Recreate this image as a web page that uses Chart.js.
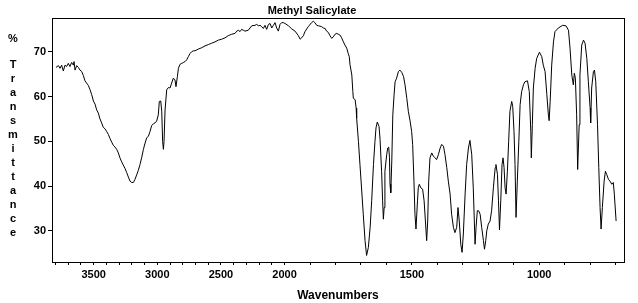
<!DOCTYPE html>
<html>
<head>
<meta charset="utf-8">
<title>Methyl Salicylate</title>
<script src="https://cdn.jsdelivr.net/npm/chart.js@4/dist/chart.umd.min.js"></script>
<style>
body { margin: 0; background: #fff; }
</style>
</head>
<body>
<canvas id="ir" width="638" height="303"></canvas>
<script>
// spectrum, high to low wavenumber
let wavenumber = [
  3796, 3777, 3764, 3751, 3738, 3725, 3712, 3699, 3686, 3673, 3659, 3654, 3646, 3633, 3620, 3607,
  3594, 3581, 3568, 3555, 3542, 3528, 3515, 3502, 3489, 3476, 3463, 3450, 3437, 3424, 3411, 3398,
  3384, 3371, 3358, 3345, 3332, 3319, 3306, 3293, 3280, 3267, 3253, 3240, 3227, 3214, 3201, 3188,
  3175, 3162, 3149, 3136, 3123, 3109, 3096, 3083, 3070, 3057, 3044, 3031, 3018, 3005, 2992, 2984,
  2973, 2965, 2958, 2952, 2947, 2939, 2926, 2913, 2900, 2887, 2874, 2861, 2853, 2842, 2834, 2821,
  2808, 2795, 2782, 2769, 2756, 2743, 2730, 2717,
  2704, 2677, 2651, 2625, 2599, 2573, 2547, 2520, 2494, 2468, 2442, 2416, 2389, 2376, 2363, 2350,
  2337, 2324, 2311, 2285, 2272, 2258, 2232, 2219, 2206, 2193, 2180, 2167, 2154, 2141, 2127, 2114,
  2101, 2088, 2075, 2062, 2049, 2036, 2023, 2010, 1998, 1985, 1972, 1959, 1946, 1939, 1933, 1926,
  1920, 1907, 1894, 1887, 1881, 1874, 1867, 1854, 1848, 1841, 1835, 1828, 1822, 1815, 1809, 1802,
  1795, 1789,
  1782, 1776, 1769, 1763, 1756, 1750, 1746, 1743, 1736, 1732, 1730, 1723, 1719, 1717, 1710, 1704,
  1697, 1691, 1684, 1678, 1671, 1664, 1658, 1651, 1645, 1641, 1636, 1629, 1625, 1619, 1615, 1612,
  1609, 1606, 1599, 1595, 1591, 1588, 1586, 1583, 1579, 1575, 1570, 1566, 1560, 1553, 1547, 1540,
  1533, 1527, 1520, 1514, 1507, 1501, 1497, 1492, 1488, 1484, 1478, 1475, 1471, 1465, 1458, 1452,
  1447, 1442, 1438, 1434, 1429, 1422, 1416, 1409, 1403, 1396, 1389, 1383, 1376, 1370, 1363, 1357,
  1350, 1344, 1337, 1331, 1324, 1319, 1314, 1308, 1303, 1298, 1291, 1285, 1278, 1272, 1265, 1259,
  1252, 1248, 1243, 1238,
  1232, 1226, 1219, 1215, 1210, 1206, 1200, 1193, 1187, 1180, 1173, 1170, 1164, 1160, 1156, 1151,
  1146, 1142, 1138, 1134, 1130, 1125, 1120, 1115, 1108, 1104, 1099, 1095, 1091, 1086, 1080, 1075,
  1069, 1062, 1056, 1046, 1039, 1033, 1031, 1027, 1023, 1016, 1010, 999, 990, 984, 977, 970,
  964, 961, 957, 951, 944, 938, 925, 908, 895, 885, 879, 872, 866, 862, 858, 853,
  849, 843, 840, 833, 826, 820, 813, 807, 800, 798, 794, 787, 783, 778, 771, 766,
  761, 757, 752, 745, 740, 735, 728, 722, 715, 709, 705, 698
]
let transmittance = [
  66.5, 66.9, 66.3, 67.0, 65.7, 67.0, 66.7, 67.4, 66.7, 67.6, 67.0, 67.8, 65.9, 66.9, 66.5, 65.9,
  65.6, 64.7, 63.5, 63.0, 62.5, 61.5, 60.4, 59.0, 58.3, 57.0, 56.3, 55.0, 54.1, 53.1, 52.8, 52.2,
  51.5, 50.6, 49.8, 49.1, 48.7, 48.2, 47.4, 46.3, 45.4, 44.7, 43.9, 43.0, 42.0, 41.1, 40.8, 40.8,
  41.5, 42.5, 43.5, 44.8, 46.3, 48.2, 49.6, 50.8, 51.1, 52.2, 53.5, 53.9, 54.1, 54.5, 55.9, 58.9,
  59.0, 56.7, 50.0, 48.2, 50.0, 57.0, 61.5, 62.0, 61.9, 63.0, 64.1, 63.7, 62.2, 64.5, 66.3, 67.2,
  67.4, 67.6, 67.8, 68.2, 68.9, 69.6, 70.0, 70.2,
  70.2, 70.6, 70.9, 71.3, 71.6, 71.9, 72.2, 72.6, 72.8, 73.1, 73.6, 73.9, 74.1, 74.6, 74.8, 74.5,
  75.0, 74.8, 74.6, 74.8, 75.3, 75.8, 75.9, 76.1, 75.8, 75.9, 75.6, 75.2, 75.9, 75.0, 76.1, 76.3,
  75.3, 75.9, 76.5, 75.3, 74.6, 76.1, 76.5, 76.5, 76.3, 75.8, 75.1, 74.6, 73.6, 72.8, 73.1, 73.6,
  74.5, 75.6, 76.5, 76.8, 76.5, 75.9, 75.8, 75.6, 75.3, 75.2, 74.6, 74.3, 73.6, 73.0, 73.3, 73.9,
  74.1, 73.9,
  73.7, 73.1, 72.2, 71.5, 70.8, 69.6, 68.9, 67.1, 64.8, 61.1, 59.6, 59.3, 57.4, 55.2, 50.0, 44.8,
  38.9, 33.7, 27.8, 24.5, 26.3, 30.8, 36.7, 44.8, 50.0, 53.0, 54.3, 53.3, 50.4, 43.3, 36.7, 32.6,
  35.2, 43.3, 47.0, 48.5, 48.7, 46.3, 40.4, 38.5, 45.6, 55.9, 60.4, 63.3, 64.1, 65.6, 65.9, 65.4,
  64.5, 62.6, 59.6, 56.7, 54.5, 52.2, 49.3, 41.1, 33.7, 30.4, 36.7, 39.6, 40.4, 39.6, 39.3, 36.7,
  32.2, 27.8, 32.2, 41.1, 46.3, 47.4, 46.7, 46.3, 45.9, 47.0, 48.5, 49.3, 48.9, 47.0, 44.1, 41.1,
  38.2, 33.7, 30.8, 29.6, 30.8, 35.2, 32.2, 27.0, 25.2, 29.3, 38.2, 44.8, 48.5, 50.2, 47.0, 39.6,
  27.0, 30.8, 34.5, 34.5,
  33.7, 30.8, 27.8, 25.9, 27.8, 30.0, 31.5, 32.2, 34.5, 39.6, 44.1, 44.8, 42.6, 36.7, 30.2, 36.7,
  44.8, 46.3, 44.1, 39.6, 38.2, 43.3, 50.0, 56.7, 58.9, 57.8, 52.2, 44.8, 33.0, 41.1, 50.0, 58.2,
  61.1, 62.6, 63.3, 63.5, 61.1, 52.2, 46.3, 53.7, 61.9, 66.3, 68.5, 69.9, 68.9, 67.0, 65.6, 60.4,
  55.9, 54.6, 58.9, 67.0, 72.2, 74.5, 75.3, 75.9, 75.8, 74.8, 70.8, 64.8, 62.6, 65.2, 64.1, 55.9,
  43.7, 53.7, 64.8, 71.5, 72.6, 71.9, 68.5, 63.3, 57.4, 54.1, 61.9, 65.6, 65.9, 63.3, 53.7, 44.1,
  35.2, 30.4, 35.2, 41.1, 43.3, 42.6, 41.5, 41.1, 40.4, 40.8, 38.2, 32.2
]
let xTicks = [3800, 3700, 3600, 3500, 3400, 3300, 3200, 3100, 3000, 2900, 2800, 2700, 2600, 2500,
  2400, 2300, 2200, 2100, 2000, 1900, 1800, 1700, 1600, 1500, 1400, 1300, 1200, 1100, 1000, 900, 800, 700]
let yTicks = [30, 40, 50, 60, 70]
let yTitle = 'Transmittance'

let font = 'Liberation Sans'

// below 2000 cm-1 the axis is drawn twice as wide
let squeeze = function(v){ return v > 2000 ? 2000 + (v - 2000) / 2 : v }
let unsqueeze = function(u){ return u > 2000 ? 2000 + (u - 2000) * 2 : u }

class BrokenScale extends Chart.LinearScale {
  configure(){
    super.configure()
    this._startValue = squeeze(this.min)
    this._endValue = squeeze(this.max)
    this._valueRange = this._endValue - this._startValue
  }
  getPixelForValue(v){ return super.getPixelForValue(squeeze(v)) }
  getValueForPixel(p){ return unsqueeze(super.getValueForPixel(p)) }
}
BrokenScale.id = 'broken'
BrokenScale.defaults = Chart.LinearScale.defaults
Chart.register(BrokenScale)

// box round the plot and the stacked y title
let frame = {
  id: 'frame',
  afterDraw: function(chart){
    let ctx = chart.ctx
    let a = chart.chartArea
    let l = Math.round(a.left), t = Math.round(a.top), r = Math.round(a.right), b = Math.round(a.bottom)
    ctx.save()
    ctx.strokeStyle = '#000'
    ctx.lineWidth = 1
    ctx.strokeRect(l + 0.5, t + 0.5, r - l, b - t)
    ctx.fillStyle = '#000'
    ctx.font = 'bold 11px "' + font + '"'
    ctx.textAlign = 'center'
    ctx.textBaseline = 'middle'
    ctx.fillText('%', 13, 39)
    for(let i = 0 ; i < yTitle.length ; i++){
      ctx.fillText(yTitle[i], 13, 65 + i * 14)
    }
    ctx.restore()
  }
}

let points = wavenumber.map(function(w, i){ return {x: w, y: transmittance[i]} })

new Chart(document.getElementById('ir'), {
  type: 'line',
  data: {
    datasets: [{
      data: points,
      borderColor: '#000',
      borderWidth: 1,
      pointRadius: 0,
      tension: 0,
      fill: false
    }]
  },
  options: {
    responsive: false,
    animation: false,
    layout: { padding: { left: 0, right: 14, top: 0, bottom: 0 } },
    plugins: {
      legend: { display: false },
      tooltip: { enabled: false },
      title: {
        display: true,
        text: 'Methyl Salicylate',
        color: '#000',
        font: { family: font, size: 11, weight: 'bold' },
        padding: { top: 4, bottom: 1 }
      }
    },
    scales: {
      x: {
        type: 'broken',
        reverse: true,
        min: 667,
        max: 3827,
        afterBuildTicks: function(s){ s.ticks = xTicks.map(function(v){ return {value: v} }) },
        afterFit: function(s){ s.height = 41 },
        grid: { drawOnChartArea: false, tickLength: 3, color: '#000' },
        border: { color: '#000', width: 1 },
        ticks: {
          autoSkip: false,
          maxRotation: 0,
          padding: 3,
          color: '#000',
          font: { family: font, size: 11, weight: 'bold' },
          callback: function(v){ return v % 500 === 0 ? String(v) : '' }
        },
        title: {
          display: true,
          text: 'Wavenumbers',
          color: '#000',
          font: { family: font, size: 12, weight: 'bold', lineHeight: 1 },
          padding: { top: 0, bottom: 1 }
        }
      },
      y: {
        min: 23.04,
        max: 77.49,
        afterBuildTicks: function(s){ s.ticks = yTicks.map(function(v){ return {value: v} }) },
        afterFit: function(s){ s.width = 52 },
        grid: { drawOnChartArea: false, tickLength: 4, color: '#000' },
        border: { color: '#000', width: 1 },
        ticks: {
          padding: 2,
          color: '#000',
          font: { family: font, size: 11, weight: 'bold' }
        }
      }
    }
  },
  plugins: [frame]
})
</script>
</body>
</html>
